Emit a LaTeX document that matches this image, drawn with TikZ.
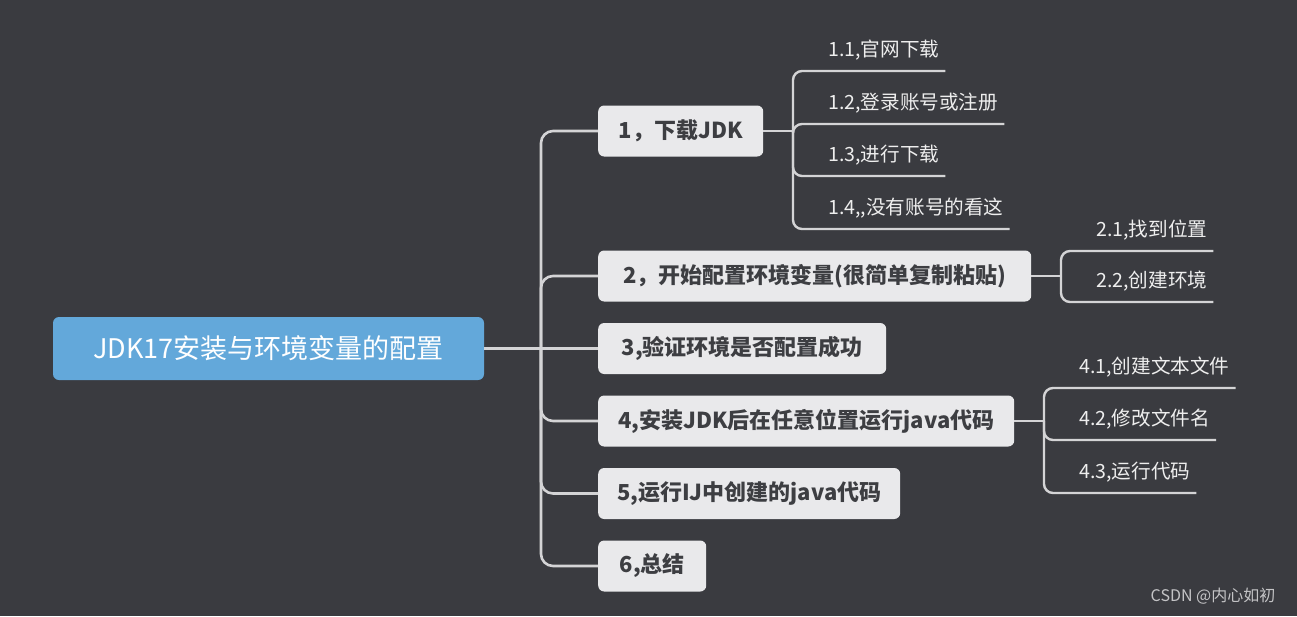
\documentclass[tikz,border=0pt]{standalone}
\usepackage{fontspec}
\newfontfamily\cjk{Noto Sans CJK SC}

\definecolor{bgdark}{HTML}{3A3B40}
\definecolor{rootblue}{HTML}{63A8DA}
\definecolor{topicgray}{HTML}{E9E9EB}
\definecolor{topictext}{HTML}{3D3E42}
\definecolor{subtext}{HTML}{EEEEEE}
\definecolor{linegray}{HTML}{D4D4D6}
\definecolor{markgray}{HTML}{C4C4C6}

\tikzset{
  rootbox/.style={fill=rootblue, rounded corners=6pt, text=white,
    font=\cjk\fontsize{27}{32}\selectfont, minimum width=431pt, minimum height=63pt},
  topicbox/.style={fill=topicgray, rounded corners=6pt, text=topictext, anchor=west,
    font=\cjk\bfseries\fontsize{22}{26}\selectfont, minimum height=51pt, inner xsep=0pt},
  subtopic/.style={text=subtext, anchor=south west, inner xsep=6pt, inner ysep=9pt,
    text depth=5pt, font=\cjk\fontsize{19.6}{23}\selectfont},
  branch/.style={draw=linegray, line width=2.6pt, rounded corners=12pt},
  twig/.style={draw=linegray, line width=2.4pt, rounded corners=9pt},
  watermark/.style={text=markgray, font=\cjk\fontsize{16}{19}\selectfont},
}

\begin{document}
\begin{tikzpicture}[x=1pt, y=-1pt]
    % Background
    \fill[bgdark] (0,0) rectangle (1297,616);
    \useasboundingbox (0,0) rectangle (1297,616);

    % Central topic
    \node[rootbox] (root) at (268.5,348.5) {JDK17安装与环境变量的配置};

    % Main topics
    \node[topicbox, minimum width=165pt] (s1) at (598,131) {1，下载JDK};
    \node[topicbox, minimum width=433pt] (s2) at (598,276) {2，开始配置环境变量(很简单复制粘贴)};
    \node[topicbox, minimum width=288pt] (s3) at (598,348.5) {3,验证环境是否配置成功};
    \node[topicbox, minimum width=416pt] (s4) at (598,421) {4,安装JDK后在任意位置运行java代码};
    \node[topicbox, minimum width=302pt] (s5) at (598,493.5) {5,运行IJ中创建的java代码};
    \node[topicbox, minimum width=108pt] (s6) at (598,566) {6,总结};

    % Trunk
    \coordinate (trunk) at (541,348.5);
    \draw[branch] (root.east) -- (trunk);
    \draw[branch] (trunk) |- (s1.west);
    \draw[branch] (trunk) |- (s2.west);
    \draw[branch] (trunk) -- (s3.west);
    \draw[branch] (trunk) |- (s4.west);
    \draw[branch] (trunk) |- (s5.west);
    \draw[branch] (trunk) |- (s6.west);

    % Subtopics of 1
    \coordinate (b1) at (793,131);
    \node[subtopic] (s11) at (822,71) {1.1,官网下载};
    \node[subtopic] (s12) at (822,124) {1.2,登录账号或注册};
    \node[subtopic] (s13) at (822,176) {1.3,进行下载};
    \node[subtopic] (s14) at (822,229) {1.4,,没有账号的看这};
    \draw[twig] (s1.east) -- (b1);
    \draw[twig] (b1) |- (s11.south west) -- (s11.south east);
    \draw[twig] (b1) |- (s12.south west) -- (s12.south east);
    \draw[twig] (b1) |- (s13.south west) -- (s13.south east);
    \draw[twig] (b1) |- (s14.south west) -- (s14.south east);

    % Subtopics of 2
    \coordinate (b2) at (1061,276);
    \node[subtopic] (s21) at (1090,251) {2.1,找到位置};
    \node[subtopic] (s22) at (1090,302) {2.2,创建环境};
    \draw[twig] (s2.east) -- (b2);
    \draw[twig] (b2) |- (s21.south west) -- (s21.south east);
    \draw[twig] (b2) |- (s22.south west) -- (s22.south east);

    % Subtopics of 4
    \coordinate (b4) at (1044,421);
    \node[subtopic] (s41) at (1073,388) {4.1,创建文本文件};
    \node[subtopic] (s42) at (1073,440) {4.2,修改文件名};
    \node[subtopic] (s43) at (1073,493) {4.3,运行代码};
    \draw[twig] (s4.east) -- (b4);
    \draw[twig] (b4) |- (s41.south west) -- (s41.south east);
    \draw[twig] (b4) |- (s42.south west) -- (s42.south east);
    \draw[twig] (b4) |- (s43.south west) -- (s43.south east);

    % Watermark
    \node[watermark] (mark) at (1213,596) {CSDN @内心如初};
\end{tikzpicture}
\end{document}
